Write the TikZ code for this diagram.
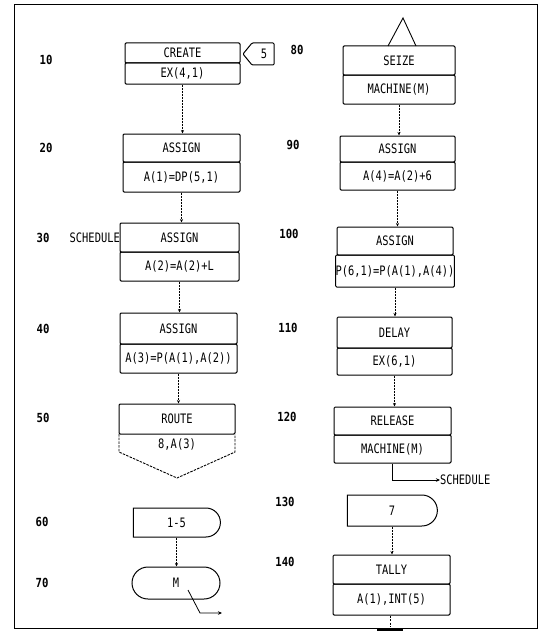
\documentclass[tikz,border=0pt]{standalone}
\usepackage{fontspec}
\usetikzlibrary{arrows.meta,shapes.misc}
\newfontfamily\dm[FakeStretch=0.8]{DejaVu Sans Mono}
\newfontfamily\dmb[FakeStretch=0.85]{DejaVu Sans Mono Bold}
\begin{document}
\begin{tikzpicture}[x=1pt,y=-1pt,
  cell/.style={draw=black,line width=1pt,rounded corners=1.2pt,inner sep=0pt,font=\dm\fontsize{13}{14}\selectfont},
  lab/.style={inner sep=0pt,font=\dm\fontsize{13}{14}\selectfont},
  num/.style={inner sep=0pt,font=\dmb\fontsize{12.5}{13}\selectfont},
  conn/.style={draw=black,line width=0.6pt,dash pattern=on 2pt off 1pt,-{Stealth[length=3.5pt,width=3pt]}},
  arrow/.style={draw=black,line width=0.8pt,-{Stealth[length=4pt,width=3.5pt]}},
  term/.style={draw=black,line width=1pt,rounded rectangle,inner sep=0pt,font=\dm\fontsize{13}{14}\selectfont}]
\useasboundingbox (0,0) rectangle (548,642);
% frame
\draw[line width=1pt] (14,5) rectangle (537,628);

% ---------- left column ----------
\node[num] (l10) at (46,60) {10};
\node[cell,minimum width=115,minimum height=20] (n10a) at (182.5,53) {CREATE};
\node[cell,minimum width=115,minimum height=21] (n10b) at (182.5,73.5) {EX(4,1)};
\node[lab] (n5) at (264,54) {5};
\draw[line width=1pt,rounded corners=1pt] (252,43) -- (274,43) -- (274,65) -- (252,65) -- (243,54) -- cycle;

\node[num] (l20) at (46,148) {20};
\node[cell,minimum width=117,minimum height=28] (n20a) at (181.5,148) {ASSIGN};
\node[cell,minimum width=117,minimum height=30] (n20b) at (181.5,177) {A(1)=DP(5,1)};

\node[num] (l30) at (43,238) {30};
\node[lab,anchor=east] (sch1) at (120,238) {SCHEDULE};
\node[cell,minimum width=119,minimum height=29] (n30a) at (179.5,237.5) {ASSIGN};
\node[cell,minimum width=119,minimum height=29] (n30b) at (179.5,266.5) {A(2)=A(2)+L};

\node[num] (l40) at (43,329) {40};
\node[cell,minimum width=117,minimum height=31] (n40a) at (178.5,328.5) {ASSIGN};
\node[cell,minimum width=117,minimum height=29] (n40b) at (178.5,358.5) {A(3)=P(A(1),A(2))};

\node[num] (l50) at (43,418) {50};
\node[cell,minimum width=116,minimum height=30] (n50a) at (177,419) {ROUTE};
\node[lab] (n50b) at (177,444) {8,A(3)};
\draw[line width=0.9pt,dash pattern=on 2.5pt off 1.2pt] (119,434) -- (119,452) -- (177,478) -- (235,452) -- (235,434);

\node[num] (l60) at (42,522) {60};
\node[term,rounded rectangle west arc=none,minimum width=87,minimum height=29] (n60) at (176.5,522.5) {1-5};

\node[num] (l70) at (42,583) {70};
\node[term,minimum width=88,minimum height=32] (n70) at (176,583) {M};
\coordinate (e70) at (222,613);
\draw[arrow] ([xshift=12pt,yshift=-7pt]n70.center) -- ++(12,23) -- (e70);

% ---------- right column ----------
\node[num] (l80) at (297,50) {80};
\node[cell,minimum width=112,minimum height=29] (n80a) at (399,60.5) {SEIZE};
\node[cell,minimum width=112,minimum height=29] (n80b) at (399,89.5) {MACHINE(M)};
\draw[line width=0.9pt] (388,46) -- (403,18) -- (416,46);

\node[num] (l90) at (293,145) {90};
\node[cell,minimum width=115,minimum height=26] (n90a) at (397.5,149) {ASSIGN};
\node[cell,minimum width=115,minimum height=28] (n90b) at (397.5,176) {A(4)=A(2)+6};

\node[num] (l100) at (289,234) {100};
\node[cell,minimum width=116,minimum height=28] (n100a) at (395,241) {ASSIGN};
\node[cell,minimum width=116,minimum height=32] (n100b) at (395,271) {P(6,1)=P(A(1),A(4))};

\node[num] (l110) at (288,328) {110};
\node[cell,minimum width=115,minimum height=31] (n110a) at (394.5,332.5) {DELAY};
\node[cell,minimum width=115,minimum height=27] (n110b) at (394.5,361.5) {EX(6,1)};

\node[num] (l120) at (287,417) {120};
\node[cell,minimum width=117,minimum height=28] (n120a) at (392.5,421) {RELEASE};
\node[cell,minimum width=117,minimum height=28] (n120b) at (392.5,449) {MACHINE(M)};
\node[lab,anchor=west] (sch2) at (440,480) {SCHEDULE};
\draw[arrow] (n120b.south) |- (sch2.west);

\node[num] (l130) at (285,502) {130};
\node[term,rounded rectangle west arc=none,minimum width=90,minimum height=31] (n130) at (392,510.5) {7};

\node[num] (l140) at (285,562) {140};
\node[cell,minimum width=117,minimum height=29] (n140a) at (391.5,569.5) {TALLY};
\node[cell,minimum width=117,minimum height=31] (n140b) at (391.5,599.5) {A(1),INT(5)};
\coordinate (t140) at (390,630);
\draw[line width=0.6pt,dash pattern=on 2pt off 1.5pt] (n140b.south -| t140) -- ([yshift=3pt]t140);
\draw[line width=1.2pt] ([xshift=-13pt]t140) -- ([xshift=13pt]t140);

% ---------- connectors ----------
\draw[conn] (n10b.south) -- (n10b.south |- n20a.north);
\draw[conn] (n20b.south) -- (n20b.south |- n30a.north);
\draw[conn] (n30b.south) -- (n30b.south |- n40a.north);
\draw[conn] (n40b.south) -- (n40b.south |- n50a.north);
\draw[conn] (n60.south) -- (n60.south |- n70.north);
\draw[conn] (n80b.south) -- (n80b.south |- n90a.north);
\draw[conn] (n90b.south) -- (n90b.south |- n100a.north);
\draw[conn] (n100b.south) -- (n100b.south |- n110a.north);
\draw[conn] (n110b.south) -- (n110b.south |- n120a.north);
\draw[conn] (n130.south) -- (n130.south |- n140a.north);
\end{tikzpicture}
\end{document}
